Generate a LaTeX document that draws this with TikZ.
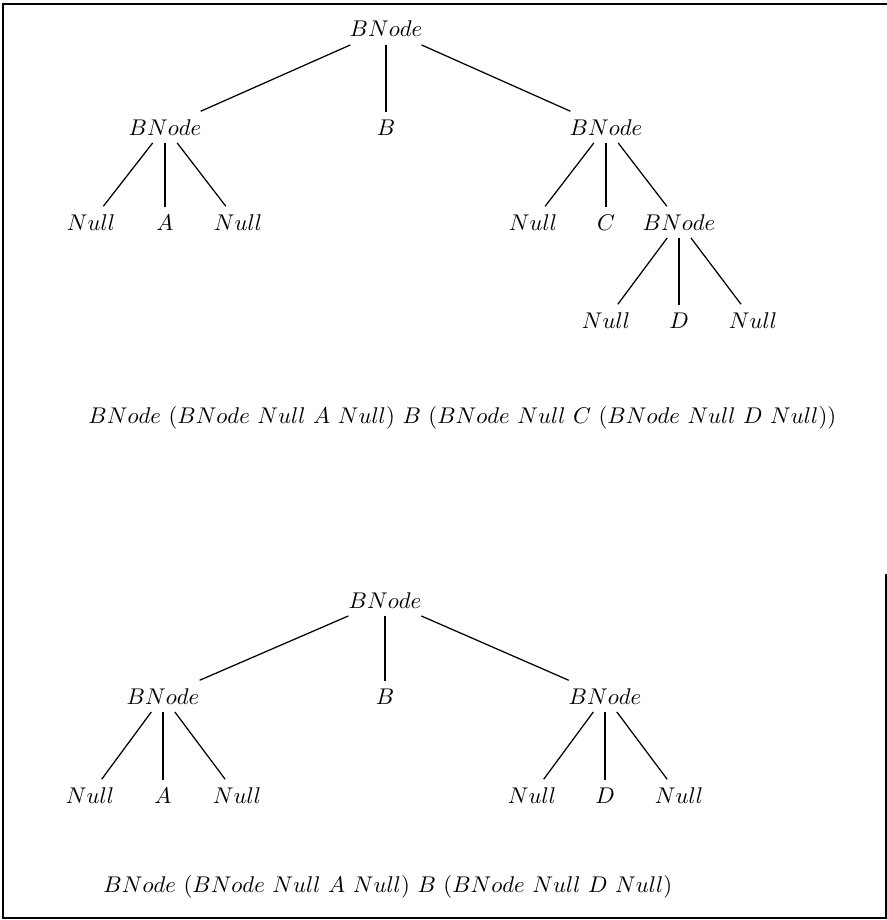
\documentclass[tikz,border=0pt]{standalone}
\begin{document}
\begin{tikzpicture}[x=0.44pt,y=-0.44pt,
  tn/.style={anchor=base, inner sep=3.3pt},
  edge/.style={line width=0.55pt},
  frame/.style={line width=0.8pt},
  expr/.style={anchor=base west, inner sep=0pt}]
\useasboundingbox (0,0) rectangle (887,920);

% outer frame
\draw[frame] (886,574) -- (886,918) -- (3,918) -- (3,4) -- (887,4);

% ---------- first tree ----------
\node[tn] (r)   at (386,37)  {$BNode$};
\node[tn] (l)   at (165,135) {$BNode$};
\node[tn] (b)   at (386,135) {$B$};
\node[tn] (rr)  at (606,135) {$BNode$};
\node[tn] (l1)  at (91,230)  {$Null$};
\node[tn] (l2)  at (165,230) {$A$};
\node[tn] (l3)  at (238,230) {$Null$};
\node[tn] (r1)  at (533,230) {$Null$};
\node[tn] (r2)  at (606,230) {$C$};
\node[tn] (r3)  at (679,230) {$BNode$};
\node[tn] (s1)  at (606,328) {$Null$};
\node[tn] (s2)  at (679,328) {$D$};
\node[tn] (s3)  at (753,328) {$Null$};

\foreach \p/\c in {r/l, r/b, r/rr, l/l1, l/l2, l/l3, rr/r1, rr/r2, rr/r3, r3/s1, r3/s2, r3/s3}
  \draw[edge] (\p) -- (\c);

\node[expr] (e1) at (88,423)
  {$BNode\ (BNode\ Null\ A\ Null)\ B\ (BNode\ Null\ C\ (BNode\ Null\ D\ Null))$};

% ---------- second tree ----------
\node[tn] (R)   at (385,608) {$BNode$};
\node[tn] (L)   at (163,704) {$BNode$};
\node[tn] (B)   at (385,704) {$B$};
\node[tn] (RR)  at (605,704) {$BNode$};
\node[tn] (L1)  at (90,803)  {$Null$};
\node[tn] (L2)  at (163,803) {$A$};
\node[tn] (L3)  at (237,803) {$Null$};
\node[tn] (R1)  at (532,803) {$Null$};
\node[tn] (R2)  at (605,803) {$D$};
\node[tn] (R3)  at (679,803) {$Null$};

\foreach \p/\c in {R/L, R/B, R/RR, L/L1, L/L2, L/L3, RR/R1, RR/R2, RR/R3}
  \draw[edge] (\p) -- (\c);

\node[expr] (e2) at (103,892)
  {$BNode\ (BNode\ Null\ A\ Null)\ B\ (BNode\ Null\ D\ Null)$};
\end{tikzpicture}
\end{document}
